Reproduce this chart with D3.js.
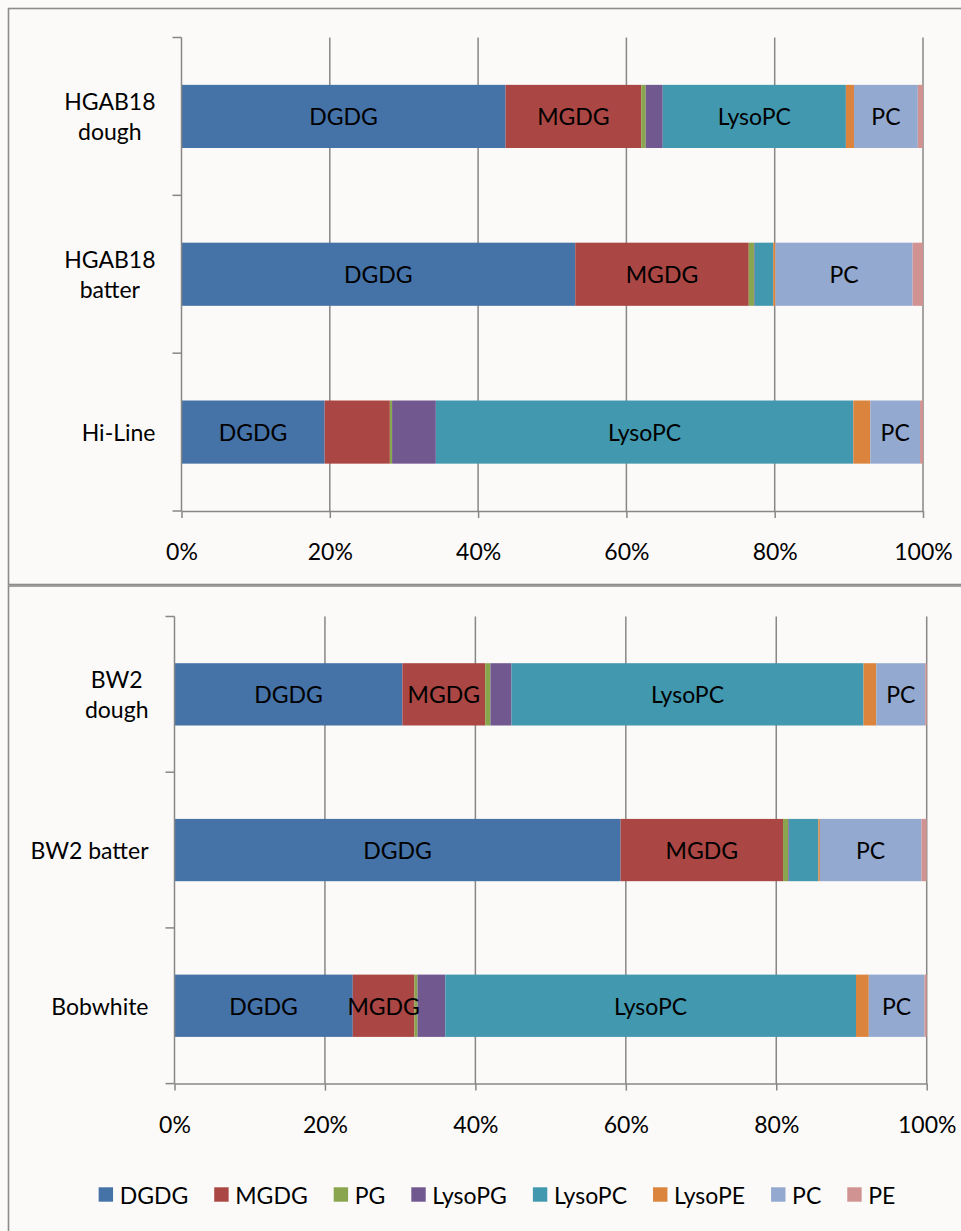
<!DOCTYPE html>
<html>
<head>
<meta charset="utf-8">
<script src="https://cdn.jsdelivr.net/npm/d3@7"></script>
<style>
  html, body { margin: 0; padding: 0; background: #fbfaf8; }
  svg { display: block; font-family: Lato, "Open Sans", sans-serif; }
</style>
</head>
<body>
<script>
// Lipid classes, stacking order left to right
const lipids = ["DGDG", "MGDG", "PG", "LysoPG", "LysoPC", "LysoPE", "PC", "PE"];
const lipidColors = ["#4572A7", "#AA4643", "#89A54E", "#71588F", "#4198AF", "#DB843D", "#93A9CF", "#D19392"];
const tickValues = [0, 20, 40, 60, 80, 100];

// Upper chart: HGAB18 and Hi-Line samples (% of total)
const catsTop = [["HGAB18", "dough"], ["HGAB18", "batter"], ["Hi-Line"]];
const topDGDG   = [43.7, 53.1, 19.3];
const topMGDG   = [18.3, 23.4, 8.8];
const topPG     = [0.6, 0.7, 0.3];
const topLysoPG = [2.3, 0.1, 5.9];
const topLysoPC = [24.7, 2.5, 56.3];
const topLysoPE = [1.1, 0.3, 2.3];
const topPC     = [8.6, 18.5, 6.7];
const topPE     = [0.7, 1.4, 0.4];
const topLabeled = [["DGDG", "MGDG", "LysoPC", "PC"], ["DGDG", "MGDG", "PC"], ["DGDG", "LysoPC", "PC"]];

// Lower chart: BW2 and Bobwhite samples (% of total)
const catsBottom = [["BW2", "dough"], ["BW2 batter"], ["Bobwhite"]];
const botDGDG   = [30.3, 59.3, 23.7];
const botMGDG   = [11.0, 21.6, 8.2];
const botPG     = [0.7, 0.7, 0.4];
const botLysoPG = [2.8, 0.1, 3.7];
const botLysoPC = [46.8, 3.9, 54.6];
const botLysoPE = [1.7, 0.2, 1.7];
const botPC     = [6.5, 13.5, 7.4];
const botPE     = [0.2, 0.7, 0.3];
const botLabeled = [["DGDG", "MGDG", "LysoPC", "PC"], ["DGDG", "MGDG", "PC"], ["DGDG", "MGDG", "LysoPC", "PC"]];

const W = 961, H = 1231;
const FONT = 23;
const GRID = "#878787";

const svg = d3.select("body").append("svg").attr("width", W).attr("height", H);
svg.append("rect").attr("width", W).attr("height", H).attr("fill", "#fbfaf8");

const color = d3.scaleOrdinal().domain(lipids).range(lipidColors);

function drawPanel(opt) {
  const g = svg.append("g");
  // chart frame
  g.append("rect")
    .attr("x", opt.frame[0]).attr("y", opt.frame[1])
    .attr("width", opt.frame[2]).attr("height", opt.frame[3])
    .attr("fill", "#fbfaf8").attr("stroke", "#8c8c8c").attr("stroke-width", 1.6);

  const names = opt.cats.map(c => c.join(" "));
  const rows = names.map((n, i) => {
    const r = { cat: n, idx: i };
    lipids.forEach((k, j) => { r[k] = opt.series[j][i]; });
    return r;
  });

  const x = d3.scaleLinear().domain([0, 100]).range([opt.x0, opt.x1]);
  const y = d3.scaleBand().domain(names).range([opt.y0, opt.y1])
    .paddingInner(0.6).paddingOuter(0.3);

  // vertical gridlines
  g.append("g").selectAll("line").data(tickValues.slice(1)).join("line")
    .attr("x1", d => x(d)).attr("x2", d => x(d))
    .attr("y1", opt.y0).attr("y2", opt.y1)
    .attr("stroke", GRID).attr("stroke-width", 1.5);

  // stacked segments
  const stacked = d3.stack().keys(lipids)(rows);
  const layers = g.append("g").selectAll("g").data(stacked).join("g")
    .attr("fill", d => color(d.key));
  layers.selectAll("rect").data(d => d.map(p => ({ key: d.key, p }))).join("rect")
    .attr("x", d => x(d.p[0]))
    .attr("width", d => Math.max(0, x(d.p[1]) - x(d.p[0])))
    .attr("y", d => y(d.p.data.cat))
    .attr("height", y.bandwidth());

  // segment name labels
  const lab = [];
  stacked.forEach(layer => layer.forEach(p => {
    if (opt.labeled[p.data.idx].includes(layer.key)) lab.push({ key: layer.key, p });
  }));
  g.append("g").selectAll("text").data(lab).join("text")
    .attr("x", d => (x(d.p[0]) + x(d.p[1])) / 2)
    .attr("y", d => y(d.p.data.cat) + y.bandwidth() / 2)
    .attr("text-anchor", "middle").attr("dominant-baseline", "central")
    .attr("font-size", FONT).attr("fill", "#000")
    .text(d => d.key);

  // category axis line and band-boundary ticks
  const step = y.step();
  const bounds = names.map(n => y(n) - (step - y.bandwidth()) / 2).concat([opt.y1]);
  g.append("line").attr("x1", opt.x0).attr("x2", opt.x0)
    .attr("y1", opt.y0).attr("y2", opt.y1).attr("stroke", GRID).attr("stroke-width", 1.5);
  g.append("g").selectAll("line").data(bounds).join("line")
    .attr("x1", opt.x0 - 9).attr("x2", opt.x0).attr("y1", d => d).attr("y2", d => d)
    .attr("stroke", GRID).attr("stroke-width", 1.5);

  // category labels, lines centred within a right-aligned block
  opt.cats.forEach((lines, i) => {
    const cy = y(names[i]) + y.bandwidth() / 2;
    const t = g.append("text").attr("font-size", FONT).attr("fill", "#000")
      .attr("text-anchor", "middle").attr("dominant-baseline", "central");
    const spans = lines.map((ln, k) => t.append("tspan").text(ln)
      .attr("y", cy + (k - (lines.length - 1) / 2) * 30));
    const maxW = d3.max(spans, s => s.node().getComputedTextLength());
    spans.forEach(s => s.attr("x", opt.x0 - 26 - maxW / 2));
  });

  // value axis
  const ax = g.append("g").attr("transform", `translate(0,${opt.y1})`)
    .call(d3.axisBottom(x).tickValues(tickValues).tickFormat(d => d + "%")
      .tickSize(7).tickSizeOuter(0).tickPadding(26));
  ax.select(".domain").attr("stroke", GRID).attr("stroke-width", 1.5);
  ax.selectAll(".tick line").attr("stroke", GRID).attr("stroke-width", 1.5);
  ax.selectAll(".tick text").attr("font-size", FONT).attr("fill", "#000")
    .attr("font-family", null);
  ax.attr("font-family", null).attr("font-size", null);
  return g;
}

drawPanel({
  frame: [8.5, 8.5, 1000, 576],
  x0: 181.5, x1: 923, y0: 37.5, y1: 511,
  cats: catsTop,
  series: [topDGDG, topMGDG, topPG, topLysoPG, topLysoPC, topLysoPE, topPC, topPE],
  labeled: topLabeled
});

drawPanel({
  frame: [8.5, 586, 1000, 700],
  x0: 174.5, x1: 926.7, y0: 616.5, y1: 1083.6,
  cats: catsBottom,
  series: [botDGDG, botMGDG, botPG, botLysoPG, botLysoPC, botLysoPE, botPC, botPE],
  labeled: botLabeled
});

// legend
const leg = svg.append("g");
const items = leg.selectAll("g").data(lipids).join("g");
items.append("rect").attr("width", 14.4).attr("height", 14.4).attr("y", -7.2)
  .attr("fill", d => color(d));
items.append("text").attr("x", 21).attr("dominant-baseline", "central")
  .attr("font-size", FONT).attr("fill", "#000").text(d => d);
let cx = 0;
items.each(function () {
  const w = 21 + d3.select(this).select("text").node().getComputedTextLength();
  d3.select(this).attr("transform", `translate(${cx},0)`);
  cx += w + 26;
});
const legW = cx - 26;
leg.attr("transform", `translate(${497 - legW / 2},1194.5)`);
</script>
</body>
</html>
